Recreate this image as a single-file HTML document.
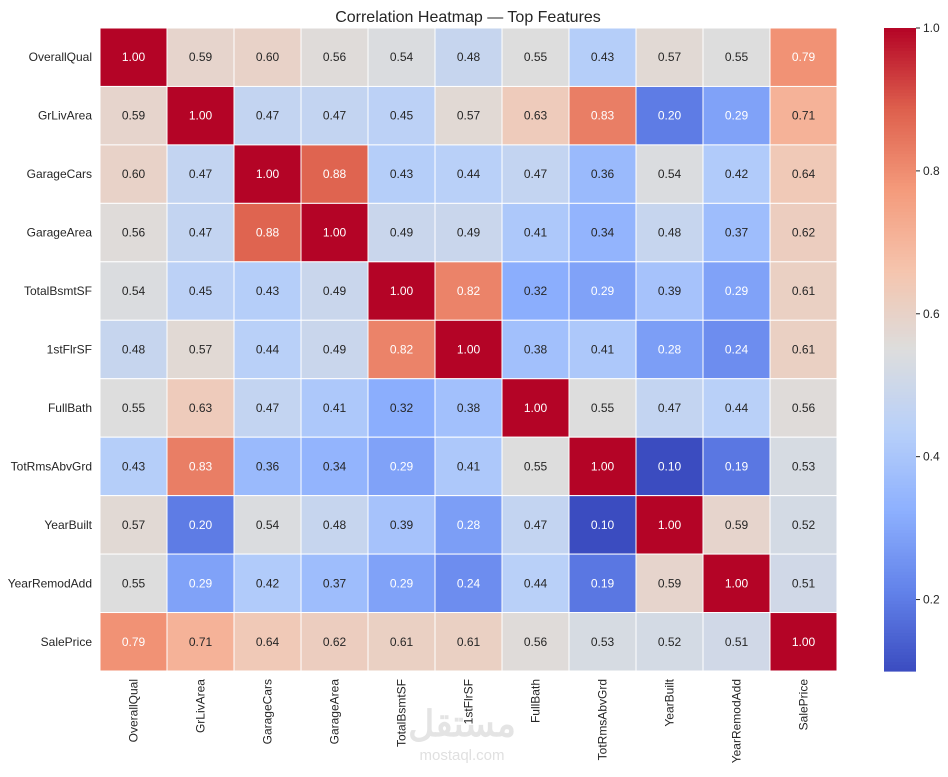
<!DOCTYPE html>
<html><head><meta charset="utf-8">
<style>
body{margin:0;background:#fff;font-family:"Liberation Sans",sans-serif;}
svg text{font-family:"Liberation Sans",sans-serif;}
</style></head>
<body>
<svg id="chart" width="948" height="772" xmlns="http://www.w3.org/2000/svg">
<text x="468" y="22" font-size="16" text-anchor="middle" fill="#262626">Correlation Heatmap — Top Features</text>
<g id="cells"></g>
<g id="cbar"></g>
<text x="462" y="736" font-size="36" font-weight="bold" text-anchor="middle" fill="#e4e4e4">مستقل</text>
<text x="462" y="760" font-size="15" text-anchor="middle" fill="#e0e0e0">mostaql.com</text>
</svg>
<script>
const features = ["OverallQual","GrLivArea","GarageCars","GarageArea","TotalBsmtSF","1stFlrSF","FullBath","TotRmsAbvGrd","YearBuilt","YearRemodAdd","SalePrice"];
const matrix = [
[1.00,0.59,0.60,0.56,0.54,0.48,0.55,0.43,0.57,0.55,0.79],
[0.59,1.00,0.47,0.47,0.45,0.57,0.63,0.83,0.20,0.29,0.71],
[0.60,0.47,1.00,0.88,0.43,0.44,0.47,0.36,0.54,0.42,0.64],
[0.56,0.47,0.88,1.00,0.49,0.49,0.41,0.34,0.48,0.37,0.62],
[0.54,0.45,0.43,0.49,1.00,0.82,0.32,0.29,0.39,0.29,0.61],
[0.48,0.57,0.44,0.49,0.82,1.00,0.38,0.41,0.28,0.24,0.61],
[0.55,0.63,0.47,0.41,0.32,0.38,1.00,0.55,0.47,0.44,0.56],
[0.43,0.83,0.36,0.34,0.29,0.41,0.55,1.00,0.10,0.19,0.53],
[0.57,0.20,0.54,0.48,0.39,0.28,0.47,0.10,1.00,0.59,0.52],
[0.55,0.29,0.42,0.37,0.29,0.24,0.44,0.19,0.59,1.00,0.51],
[0.79,0.71,0.64,0.62,0.61,0.61,0.56,0.53,0.52,0.51,1.00]];
const cbarTicks = [0.2,0.4,0.6,0.8,1.0];
const vmin=0.10, vmax=1.0;
const L=100,T=28,R=837,B=671;
const n=features.length, cw=(R-L)/n, ch=(B-T)/n;
const stops=[[59,76,192],[98,130,234],[141,176,254],[184,208,249],[221,221,221],[245,196,173],[244,154,123],[222,96,77],[180,4,38]];
function cmap(v){let t=Math.max(0,Math.min(1,(v-vmin)/(vmax-vmin)))*8;let i=Math.min(7,Math.floor(t)),f=t-i;
 return stops[i].map((c,k)=>Math.round(c+(stops[i+1][k]-c)*f));}
function lum(c){const l=c.map(x=>{x/=255;return x<=0.03928?x/12.92:Math.pow((x+0.055)/1.055,2.4)});return 0.2126*l[0]+0.7152*l[1]+0.0722*l[2];}
const NS="http://www.w3.org/2000/svg";
const g=document.getElementById('cells');
function mk(tag,attrs,parent){const e=document.createElementNS(NS,tag);for(const k in attrs)e.setAttribute(k,attrs[k]);parent.appendChild(e);return e;}
const xs=i=>L+i*cw, ys=j=>T+j*ch;
matrix.forEach((row,j)=>row.forEach((v,i)=>{
 const c=cmap(v);
 const r=mk('rect',{x:xs(i),y:ys(j),width:cw,height:ch,fill:`rgb(${c})`,stroke:'#fff','stroke-width':1},g);
 
 
 const t=mk('text',{x:xs(i)+cw/2,y:ys(j)+ch/2+4,'font-size':12,'text-anchor':'middle',fill:lum(c)<0.408?'#fff':'#262626'},g);
 t.textContent=v.toFixed(2);
 
 
}));
features.forEach((f,j)=>{
 const t=mk('text',{x:L-8,y:ys(j)+ch/2+4,'font-size':12,'text-anchor':'end',fill:'#262626'},g);
 t.textContent=f;
 
 
 const x=xs(j)+cw/2+4;
 const t2=mk('text',{x:x,y:B+8,'font-size':12,'text-anchor':'end',fill:'#262626',transform:`rotate(-90 ${x} ${B+8})`},g);
 t2.textContent=f;
 
 
});
// colorbar
const cb=document.getElementById('cbar');
const CX=884,CW=32;
const cy=v=>B-(v-vmin)/(vmax-vmin)*(B-T);
for(let k=0;k<200;k++){
 const v0=vmin+(vmax-vmin)*k/200, v1=vmin+(vmax-vmin)*(k+1)/200;
 const r=mk('rect',{x:CX,y:cy(v1),width:CW,height:cy(v0)-cy(v1)+0.6,fill:`rgb(${cmap((v0+v1)/2)})`},cb);
 
 
}
cbarTicks.forEach(v=>{
 const y=cy(v);
 const l=mk('line',{x1:CX+CW,x2:CX+CW+4,y1:y,y2:y,stroke:'#262626'},cb);
 
 
 const t=mk('text',{x:CX+CW+7,y:y+4,'font-size':12,fill:'#262626'},cb);
 t.textContent=v.toFixed(1);
 
 
});
</script>
</body></html>
